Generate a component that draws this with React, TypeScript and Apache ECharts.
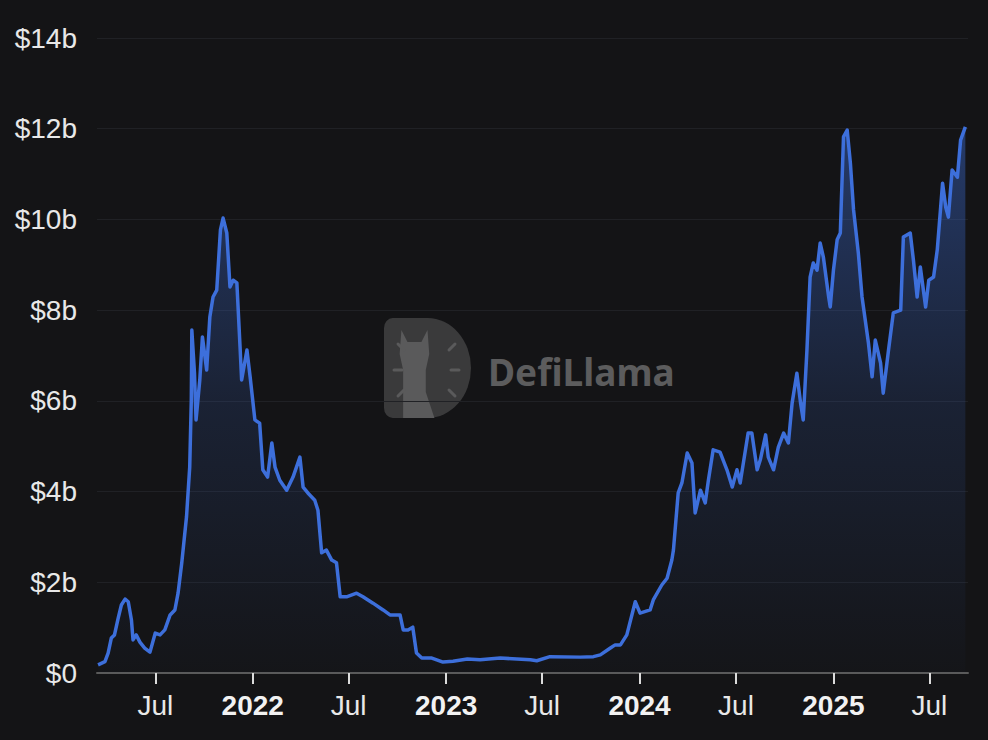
import React, { useEffect, useRef } from "react";
import * as echarts from "echarts";

const dates = [
  "2021-03-15","2021-03-28","2021-04-03","2021-04-09","2021-04-15","2021-04-22","2021-04-28","2021-05-05","2021-05-11","2021-05-17",
  "2021-05-20","2021-05-26","2021-06-02","2021-06-11","2021-06-21","2021-07-01","2021-07-10","2021-07-19","2021-07-29","2021-08-07",
  "2021-08-13","2021-08-20","2021-08-29","2021-09-04","2021-09-07","2021-09-08","2021-09-13","2021-09-16","2021-09-23","2021-09-28",
  "2021-10-06","2021-10-12","2021-10-18","2021-10-25","2021-11-01","2021-11-06","2021-11-13","2021-11-19","2021-11-25","2021-12-02",
  "2021-12-08","2021-12-11","2021-12-21","2021-12-27","2022-01-05","2022-01-14","2022-01-20","2022-01-29","2022-02-06","2022-02-12",
  "2022-02-21","2022-03-06","2022-03-18","2022-03-31","2022-04-06","2022-04-15","2022-04-28","2022-05-04","2022-05-11","2022-05-20",
  "2022-05-30","2022-06-08","2022-06-15","2022-06-27","2022-07-16","2022-07-28","2022-08-16","2022-09-04","2022-09-17","2022-10-06",
  "2022-10-12","2022-10-21","2022-10-30","2022-11-06","2022-11-16","2022-12-05","2022-12-26","2023-01-14","2023-02-10","2023-03-06",
  "2023-04-13","2023-06-09","2023-06-21","2023-07-16","2023-09-11","2023-10-06","2023-10-19","2023-11-07","2023-11-16","2023-11-26",
  "2023-12-08","2023-12-20","2023-12-24","2024-01-02","2024-01-21","2024-01-27","2024-02-12","2024-02-22","2024-03-02","2024-03-05",
  "2024-03-14","2024-03-21","2024-03-31","2024-04-09","2024-04-15","2024-04-25","2024-05-04","2024-05-10","2024-05-19","2024-06-01",
  "2024-06-14","2024-06-24","2024-07-03","2024-07-09","2024-07-24","2024-07-31","2024-08-10","2024-08-16","2024-08-26","2024-08-31",
  "2024-09-10","2024-09-19","2024-09-29","2024-10-08","2024-10-15","2024-10-24","2024-10-31","2024-11-05","2024-11-12","2024-11-18",
  "2024-11-24","2024-12-01","2024-12-07","2024-12-13","2024-12-23","2024-12-26","2025-01-01","2025-01-08","2025-01-14","2025-01-20",
  "2025-01-27","2025-02-02","2025-02-08","2025-02-17","2025-02-24","2025-03-08","2025-03-15","2025-03-21","2025-03-31","2025-04-05",
  "2025-04-15","2025-04-24","2025-05-08","2025-05-13","2025-05-26","2025-06-01","2025-06-08","2025-06-14","2025-06-24","2025-06-30",
  "2025-07-09","2025-07-16","2025-07-26","2025-08-01","2025-08-06","2025-08-13","2025-08-23","2025-08-29","2025-09-07",
];

// TVL in billions of USD
const values = [
  0.18,0.25,0.44,0.77,0.84,1.21,1.5,1.63,1.57,1.17,
  0.73,0.84,0.68,0.55,0.46,0.88,0.84,0.95,1.28,1.39,
  1.76,2.43,3.45,4.54,6.02,7.56,6.61,5.58,6.46,7.41,
  6.68,7.85,8.29,8.44,9.77,10.03,9.7,8.51,8.66,8.6,
  7.19,6.46,7.12,6.53,5.58,5.51,4.48,4.32,5.07,4.54,
  4.25,4.03,4.32,4.76,4.1,3.97,3.81,3.59,2.65,2.71,
  2.49,2.43,1.68,1.68,1.76,1.68,1.54,1.39,1.28,1.28,
  0.95,0.95,1.01,0.44,0.33,0.33,0.24,0.26,0.31,0.29,
  0.33,0.29,0.27,0.36,0.35,0.36,0.4,0.55,0.62,0.62,
  0.84,1.39,1.57,1.32,1.39,1.61,1.94,2.09,2.49,2.71,
  3.97,4.19,4.85,4.63,3.53,4.03,3.75,4.25,4.92,4.87,
  4.48,4.1,4.48,4.19,5.29,5.29,4.48,4.7,5.25,4.76,
  4.48,4.98,5.29,5.07,5.95,6.61,5.95,5.58,7.12,8.73,
  9.04,8.88,9.48,9.17,8.29,8.07,8.88,9.55,9.7,11.82,
  11.97,11.24,10.21,9.26,8.29,7.28,6.53,7.34,6.83,6.17,
  7.12,7.94,8.0,9.61,9.7,9.1,8.29,8.95,8.07,8.66,
  8.73,9.33,10.8,10.27,10.05,11.09,10.93,11.75,12.04,
];

const xTickDates = ["2021-07-01","2022-01-01","2022-07-01","2023-01-01","2023-07-01","2024-01-01","2024-07-01","2025-01-01","2025-07-01"];
const xTickLabels = ["Jul","2022","Jul","2023","Jul","2024","Jul","2025","Jul"];
const yTicks = [0, 2, 4, 6, 8, 10, 12, 14];
const xRange = ["2021-03-13", "2025-09-12"];

const toTs = (s: string) => {
  const [y, m, d] = s.split("-").map(Number);
  return Date.UTC(y, m - 1, d);
};

const D_PATH = "M10 0 H50 A50 50 0 0 1 50 100 H10 A10 10 0 0 1 0 90 V10 A10 10 0 0 1 10 0 Z";
const LLAMA_PATH = "M22 100 V52 L18 36 L20 12 L27 24 H43 L50 12 L52 36 L48 52 V74 L58 100 Z";

let registered = false;

export default function App() {
  const ref = useRef<HTMLDivElement>(null);
  useEffect(() => {
    document.body.style.margin = "0";
    document.body.style.background = "#141416";
    if (!registered) {
      echarts.graphic.registerShape("dlogo", echarts.graphic.extendPath(D_PATH, {}));
      echarts.graphic.registerShape("llama", echarts.graphic.extendPath(LLAMA_PATH, {}));
      registered = true;
    }
    const chart = echarts.init(ref.current!, null, { renderer: "svg" });
    const tickTs = xTickDates.map(toTs);
    const font = "'Liberation Sans', Arial, Helvetica, sans-serif";
    const rays = [
      [398, 344, 404, 350], [394, 370, 402, 370], [398, 396, 404, 390],
      [455, 344, 449, 350], [459, 370, 451, 370], [455, 396, 449, 390],
    ];
    chart.setOption({
      animation: false,
      backgroundColor: "#141416",
      grid: { left: 97, right: 20, top: 38, bottom: 67 },
      graphic: [
        { type: "dlogo", x: 384, y: 318, scaleX: 0.87, scaleY: 1.0, z: -1, style: { fill: "#3a3a3b" } },
        { type: "llama", x: 384, y: 318, scaleX: 0.87, scaleY: 1.0, z: -1, style: { fill: "#5a5a5b" } },
        ...rays.map((r) => ({
          type: "line", z: -1,
          shape: { x1: r[0], y1: r[1], x2: r[2], y2: r[3] },
          style: { stroke: "#5a5a5b", lineWidth: 3, lineCap: "round" },
        })),
        {
          type: "text", x: 488, y: 371, z: -1,
          style: {
            text: "DefiLlama", fill: "#5c5c5d", fontSize: 37, fontWeight: "bold",
            fontFamily: "'Noto Sans', 'Open Sans', sans-serif", verticalAlign: "middle",
          },
        },
      ],
      xAxis: {
        type: "value",
        min: toTs(xRange[0]),
        max: toTs(xRange[1]),
        axisLine: { show: true, lineStyle: { color: "#5a5a5a", width: 2 } },
        axisTick: { show: true, customValues: tickTs, length: 11, lineStyle: { color: "#dcdcdc", width: 2 } },
        splitLine: { show: false },
        axisLabel: {
          customValues: tickTs,
          margin: 18,
          color: "#e8e8e8",
          fontSize: 28,
          fontFamily: font,
          formatter: (v: number) => {
            const i = tickTs.indexOf(v);
            const t = i >= 0 ? xTickLabels[i] : "";
            return /^\d{4}$/.test(t) ? `{y|${t}}` : t;
          },
          rich: { y: { fontSize: 28, fontWeight: "bold", color: "#f2f2f2", fontFamily: font } },
        },
      },
      yAxis: {
        type: "value",
        min: yTicks[0],
        max: yTicks[yTicks.length - 1],
        interval: 2,
        axisLine: { show: false },
        axisTick: { show: false },
        splitLine: { show: true, lineStyle: { color: "#202125", width: 1 } },
        axisLabel: {
          margin: 20,
          color: "#e8e8e8",
          fontSize: 28,
          fontFamily: font,
          formatter: (v: number) => (v === 0 ? "$0" : `$${v}b`),
        },
      },
      series: [
        {
          type: "line",
          data: dates.map((d, i) => [toTs(d), values[i]]),
          showSymbol: false,
          symbol: "none",
          lineStyle: { color: "#3d6fdb", width: 3.5, join: "round" },
          itemStyle: { color: "#3d6fdb" },
          areaStyle: {
            color: new echarts.graphic.LinearGradient(0, 0, 0, 1, [
              { offset: 0, color: "rgba(61,111,219,0.6)" },
              { offset: 0.5, color: "rgba(61,111,219,0.22)" },
              { offset: 1, color: "rgba(61,111,219,0.02)" },
            ]),
          },
          z: 2,
        },
      ],
    });
    return () => chart.dispose();
  }, []);
  return <div ref={ref} style={{ width: 988, height: 740 }} />;
}
